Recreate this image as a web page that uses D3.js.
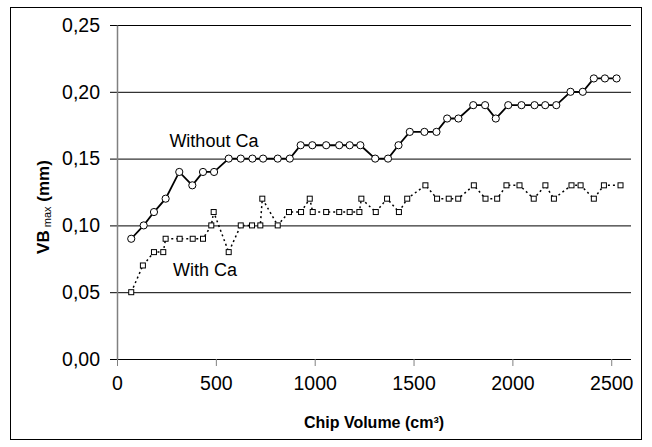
<!DOCTYPE html>
<html>
<head>
<meta charset="utf-8">
<script src="https://cdn.jsdelivr.net/npm/d3@7"></script>
<style>
  body { margin: 0; background: #fff; }
  text { font-family: "Liberation Sans", Arial, sans-serif; }
</style>
</head>
<body>
<div id="chart"></div>
<script>
// chip volume (cm3) and VB max (mm)
var withoutCaX = [72, 135, 187, 246, 315, 381, 435, 491, 565, 626, 685, 739, 813, 874, 929, 988, 1058, 1124, 1177, 1231,
  1306, 1371, 1424, 1481, 1555, 1616, 1670, 1727, 1802, 1862, 1916, 1979, 2046, 2112, 2166, 2222, 2294, 2356, 2412, 2468, 2527];
var withoutCaY = [0.09, 0.10, 0.11, 0.12, 0.14, 0.13, 0.14, 0.14, 0.15, 0.15, 0.15, 0.15, 0.15, 0.15, 0.16, 0.16, 0.16, 0.16, 0.16, 0.16,
  0.15, 0.15, 0.16, 0.17, 0.17, 0.17, 0.18, 0.18, 0.19, 0.19, 0.18, 0.19, 0.19, 0.19, 0.19, 0.19, 0.20, 0.20, 0.21, 0.21, 0.21];

var withCaX = [72, 131, 187, 234, 246, 317, 383, 435, 477, 489, 565, 626, 683, 725, 735, 813, 870, 931, 975, 990,
  1058, 1124, 1177, 1226, 1236, 1309, 1366, 1426, 1468, 1560, 1619, 1678, 1726, 1805, 1864, 1923, 1970, 2036, 2108, 2167,
  2210, 2299, 2345, 2412, 2463, 2547];
var withCaY = [0.05, 0.07, 0.08, 0.08, 0.09, 0.09, 0.09, 0.09, 0.10, 0.11, 0.08, 0.10, 0.10, 0.10, 0.12, 0.10, 0.11, 0.11, 0.12, 0.11,
  0.11, 0.11, 0.11, 0.11, 0.12, 0.11, 0.12, 0.11, 0.12, 0.13, 0.12, 0.12, 0.12, 0.13, 0.12, 0.12, 0.13, 0.13, 0.12, 0.13,
  0.12, 0.13, 0.13, 0.12, 0.13, 0.13];

var xTicks = [0, 500, 1000, 1500, 2000, 2500];
var yTicks = [0, 0.05, 0.10, 0.15, 0.20, 0.25];

(function() {
  var margin = { top: 25, left: 117, right: 21, bottom: 88 },
    width = 652 - margin.left - margin.right,
    height = 447 - margin.top - margin.bottom;

  var root = d3.select("#chart")
    .append("svg")
    .attr("width", 652)
    .attr("height", 447);

  // outer frame
  root.append("rect")
    .attr("x", 10.5).attr("y", 7.5)
    .attr("width", 631).attr("height", 432)
    .attr("fill", "none")
    .attr("stroke", "#000")
    .attr("stroke-width", 1);

  var svg = root.append("g")
    .attr("transform", "translate(" + margin.left + "," + margin.top + ")");

  var xPositionScale = d3.scaleLinear().domain([0, 2600]).range([0, width]);
  var yPositionScale = d3.scaleLinear().domain([0, 0.25]).range([height, 0]);

  // horizontal grid lines, running into the y ticks
  svg.append("g")
    .attr("class", "grid")
    .call(d3.axisLeft(yPositionScale).tickValues(yTicks).tickSize(-width).tickFormat(""))
    .call(function(g) {
      g.select(".domain").remove();
      g.selectAll("line").attr("stroke", "#000").attr("x1", -7);
    });

  var xAxis = d3.axisBottom(xPositionScale)
    .tickValues(xTicks)
    .tickSize(7)
    .tickPadding(10)
    .tickFormat(d3.format("d"));

  svg.append("g")
    .attr("class", "axis x-axis")
    .attr("transform", "translate(0," + height + ")")
    .call(xAxis)
    .call(function(g) {
      g.select(".domain").attr("stroke", "#000").attr("d", "M0,0.5H" + width);
      g.selectAll(".tick line").attr("stroke", "#808080");
      g.selectAll(".tick text")
        .attr("font-size", "19.5px")
        .attr("fill", "#000")
        .attr("font-family", "Liberation Sans, Arial, sans-serif");
    });

  var yAxis = d3.axisLeft(yPositionScale)
    .tickValues(yTicks)
    .tickSize(0)
    .tickPadding(17)
    .tickFormat(function(d) { return d3.format(".2f")(d).replace(".", ","); });

  svg.append("g")
    .attr("class", "axis y-axis")
    .call(yAxis)
    .call(function(g) {
      g.select(".domain").attr("stroke", "#808080").attr("stroke-width", 1.5);
      g.selectAll(".tick text")
        .attr("font-size", "19.5px")
        .attr("fill", "#000")
        .attr("font-family", "Liberation Sans, Arial, sans-serif");
    });

  var withoutCa = withoutCaX.map(function(x, i) { return { x: x, y: withoutCaY[i] }; });
  var withCa = withCaX.map(function(x, i) { return { x: x, y: withCaY[i] }; });

  var line = d3.line()
    .x(function(d) { return xPositionScale(d.x); })
    .y(function(d) { return yPositionScale(d.y); });

  // With Ca: dotted line, small squares
  svg.append("path")
    .datum(withCa)
    .attr("d", line)
    .attr("fill", "none")
    .attr("stroke", "#000")
    .attr("stroke-width", 1.5)
    .attr("stroke-dasharray", "2,3");

  svg.selectAll(".sq")
    .data(withCa)
    .enter().append("rect")
    .attr("class", "sq")
    .attr("x", function(d) { return xPositionScale(d.x) - 2.5; })
    .attr("y", function(d) { return yPositionScale(d.y) - 2.5; })
    .attr("width", 5)
    .attr("height", 5)
    .attr("fill", "#fff")
    .attr("stroke", "#000")
    .attr("stroke-width", 1);

  // Without Ca: solid line, open circles
  svg.append("path")
    .datum(withoutCa)
    .attr("d", line)
    .attr("fill", "none")
    .attr("stroke", "#000")
    .attr("stroke-width", 1.8);

  svg.selectAll(".dot")
    .data(withoutCa)
    .enter().append("circle")
    .attr("class", "dot")
    .attr("cx", function(d) { return xPositionScale(d.x); })
    .attr("cy", function(d) { return yPositionScale(d.y); })
    .attr("r", 3.6)
    .attr("fill", "#fff")
    .attr("stroke", "#000")
    .attr("stroke-width", 1);

  // series labels
  svg.append("text")
    .attr("x", xPositionScale(265))
    .attr("y", yPositionScale(0.159))
    .attr("font-size", "18px")
    .text("Without Ca");

  svg.append("text")
    .attr("x", xPositionScale(283))
    .attr("y", yPositionScale(0.062))
    .attr("font-size", "18px")
    .text("With Ca");

  // axis titles
  root.append("text")
    .attr("x", 374)
    .attr("y", 428)
    .attr("text-anchor", "middle")
    .attr("font-size", "16px")
    .attr("font-weight", "bold")
    .text("Chip Volume (cm³)");

  var yTitle = root.append("text")
    .attr("transform", "translate(49,207) rotate(-90)")
    .attr("text-anchor", "middle")
    .attr("font-size", "17px")
    .attr("font-weight", "bold");
  yTitle.append("tspan").text("VB");
  yTitle.append("tspan").attr("font-size", "11px").attr("font-weight", "normal").attr("dy", 2).text(" max");
  yTitle.append("tspan").attr("dy", -2).text(" (mm)");
})();
</script>
</body>
</html>
